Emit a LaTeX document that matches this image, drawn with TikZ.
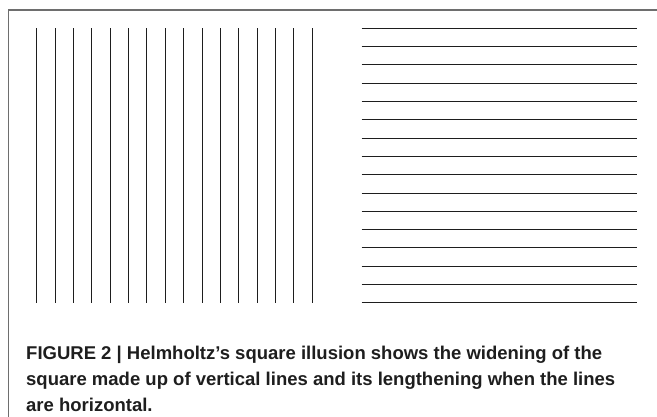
\documentclass[tikz,border=0pt]{standalone}
\usepackage{fontspec}
\setmainfont{Liberation Sans}
\definecolor{framegray}{HTML}{6E6E6E}
\definecolor{inkblack}{HTML}{1E1E1E}
\usetikzlibrary{positioning,calc}

\begin{document}
\begin{tikzpicture}[x=1pt,y=-1pt]
\useasboundingbox (0,0) rectangle (657,417);
\coordinate (TL) at (8.5,10);
\coordinate (TR) at (657,10);
\coordinate (BL) at (8.5,417);
\draw[line width=1.5pt,framegray] (TR) -- (TL) -- (BL);
% vertical square
\foreach \i in {0,...,15}
  \draw[line width=0.9pt,inkblack] (36.7+18.37*\i,28.3) -- (36.7+18.37*\i,302.8);
% horizontal square
\foreach \j in {0,...,15}
  \draw[line width=0.9pt,inkblack] (361.7,28.3+18.3*\j) -- (636.7,28.3+18.3*\j);
\node[anchor=north west,inner sep=0pt,align=left,text=inkblack,
      font=\bfseries\fontsize{18.5}{26}\selectfont] (caption) at (26,345.5)
  {FIGURE 2 | Helmholtz’s square illusion shows the widening of the\\
   square made up of vertical lines and its lengthening when the lines\\
   are horizontal.};
\end{tikzpicture}
\end{document}
